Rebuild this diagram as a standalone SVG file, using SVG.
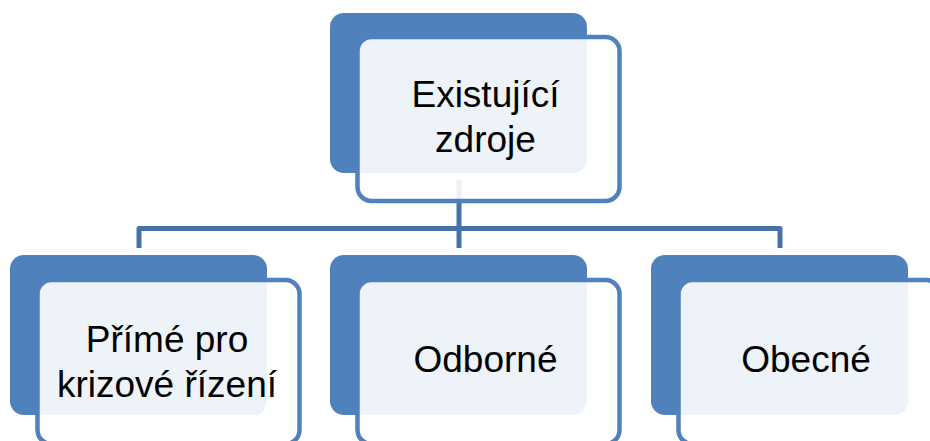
<svg xmlns="http://www.w3.org/2000/svg" width="930" height="441" viewBox="0 0 930 441">
<style>
.back{fill:#4F81BD;}
.front{fill:#FFFFFF;fill-opacity:0.9;stroke:#4F81BD;stroke-width:4.5;}
.conn{fill:none;stroke:#4672A8;stroke-width:5;stroke-linejoin:round;}
.lbl{font-family:"Liberation Sans",Arial,sans-serif;font-size:37px;fill:#000000;text-anchor:middle;}
</style>
<rect width="930" height="441" fill="#FFFFFF"/>
<g id="connectors">
<line class="conn" x1="459" y1="180" x2="459" y2="248"/>
<path class="conn" d="M139 248 V228.5 H780 V248"/>
</g>
<g id="node-top">
<rect class="back" x="330" y="13" width="257" height="160" rx="14"/>
<rect class="front" x="357.5" y="37" width="262" height="164" rx="14"/>
<text class="lbl" x="485.5" y="107">Existující</text>
<text class="lbl" x="485.5" y="152">zdroje</text>
</g>
<g id="node-left">
<rect class="back" x="10" y="255" width="257" height="160" rx="14"/>
<rect class="front" x="37.5" y="280" width="262" height="164" rx="14"/>
<text class="lbl" x="167" y="352">Přímé pro</text>
<text class="lbl" x="167" y="397">krizové řízení</text>
</g>
<g id="node-mid">
<rect class="back" x="330" y="255" width="257" height="160" rx="14"/>
<rect class="front" x="357.5" y="280" width="262" height="164" rx="14"/>
<text class="lbl" x="485.5" y="372">Odborné</text>
</g>
<g id="node-right">
<rect class="back" x="651" y="255" width="257" height="160" rx="14"/>
<rect class="front" x="678.5" y="280" width="262" height="164" rx="14"/>
<text class="lbl" x="806" y="372">Obecné</text>
</g>
</svg>
